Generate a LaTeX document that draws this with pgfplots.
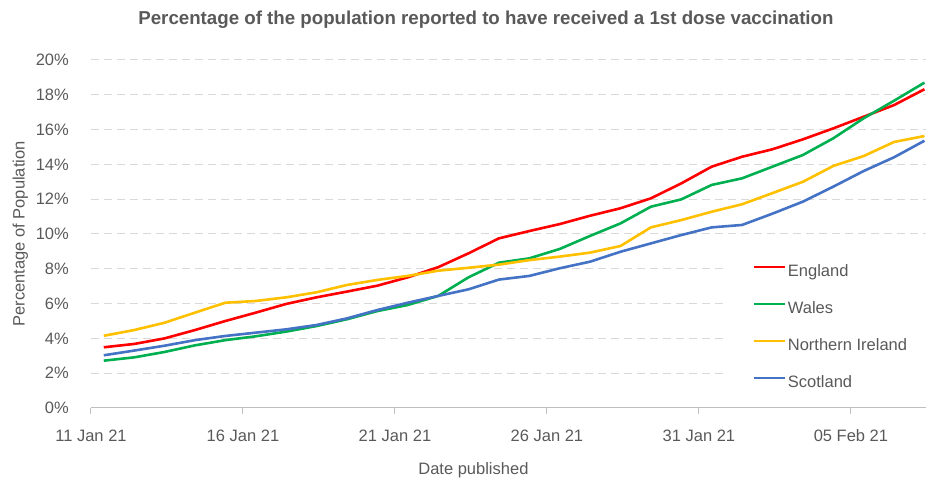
\documentclass[border=0pt]{standalone}
\usepackage{fontspec}
\setmainfont{Liberation Sans}
\usepackage{pgfplots}
\pgfplotsset{compat=1.18}
\usepackage{pgfplotstable}

\definecolor{txt}{RGB}{89,89,89}
\definecolor{gridc}{RGB}{217,217,217}
\definecolor{axisc}{RGB}{191,191,191}
\definecolor{eng}{RGB}{255,0,0}
\definecolor{wal}{RGB}{0,176,80}
\definecolor{nir}{RGB}{255,192,0}
\definecolor{sco}{RGB}{68,114,196}
\newcommand\fs{\fontsize{16.5}{19}\selectfont}

% d = days after the first report (12 Jan 21)
\pgfplotstableread{
d  eng   wal   nir   sco
0  3.49  2.72  4.15  3.03
1  3.68  2.91  4.48  3.30
2  4.00  3.22  4.90  3.58
3  4.48  3.60  5.48  3.90
4  5.00  3.90  6.05  4.14
5  5.48  4.12  6.15  4.33
6  5.98  4.39  6.36  4.52
7  6.36  4.71  6.65  4.77
8  6.69  5.10  7.07  5.15
9  7.03  5.57  7.36  5.63
10 7.51  5.92  7.59  6.05
11 8.09  6.44  7.89  6.44
12 8.89  7.51  8.06  6.82
13 9.75  8.35  8.24  7.38
14 10.17 8.60  8.50  7.59
15 10.57 9.14  8.70  8.03
16 11.05 9.89  8.93  8.41
17 11.48 10.61 9.31  8.98
18 12.05 11.57 10.38 9.46
19 12.91 11.99 10.80 9.94
20 13.87 12.82 11.28 10.38
21 14.44 13.20 11.71 10.52
22 14.87 13.87 12.35 11.17
23 15.44 14.54 13.00 11.86
24 16.07 15.50 13.91 12.72
25 16.74 16.65 14.48 13.62
26 17.41 17.66 15.29 14.41
27 18.32 18.70 15.63 15.36
}\vacc

\begin{document}
\begin{tikzpicture}
\begin{axis}[
  scale only axis,
  width=835pt, height=348pt,
  xmin=-0.42, xmax=27.05,
  ymin=0, ymax=20,
  axis lines*=left,
  y axis line style={draw=none},
  x axis line style={draw=axisc, line width=1pt},
  xtick={-0.42,4.58,9.58,14.58,19.58,24.58},
  xticklabels={11 Jan 21,16 Jan 21,21 Jan 21,26 Jan 21,31 Jan 21,05 Feb 21},
  xtick style={draw=axisc, line width=1pt},
  tick align=outside,
  major tick length=6pt,
  ytick={0,2,...,20},
  yticklabels={0\%,2\%,4\%,6\%,8\%,10\%,12\%,14\%,16\%,18\%,20\%},
  ytick style={draw=none},
  tick label style={font=\fs, text=txt, inner sep=0pt},
  yticklabel style={anchor=east, xshift=-16pt},
  xticklabel style={anchor=base, yshift=-27pt},
  ymajorgrids,
  major grid style={draw=gridc, line width=1pt, dash pattern=on 8pt off 5pt},
  title={Percentage of the population reported to have received a 1st dose vaccination},
  title style={font=\bfseries\fontsize{18.7}{21}\selectfont, text=txt,
    at={(axis description cs:0.473,1.0862)}, anchor=base},
  xlabel={Date published},
  xlabel style={font=\fs, text=txt, at={(axis description cs:0.458,-0.1897)}, anchor=base},
  ylabel={Percentage of Population},
  ylabel style={font=\fs, text=txt, at={(axis description cs:-0.0796,0.5)}, anchor=base},
  legend cell align=left,
  legend image code/.code={\draw[#1] (0pt,5pt) -- (31pt,5pt);},
  legend style={at={(axis description cs:0.757,0.437)}, anchor=north west,
    draw=none, fill=white, font=\fs, text=txt,
    inner xsep=29pt, inner ysep=6pt, row sep=17pt,
    nodes={text height=12pt, text depth=4pt, inner ysep=2pt, inner xsep=2pt}},
  every axis plot/.append style={line width=2.6pt, line join=round},
]
\addplot[eng] table[x=d, y=eng] {\vacc};
\addlegendentry{England}
\addplot[wal] table[x=d, y=wal] {\vacc};
\addlegendentry{Wales}
\addplot[nir] table[x=d, y=nir] {\vacc};
\addlegendentry{Northern Ireland}
\addplot[sco] table[x=d, y=sco] {\vacc};
\addlegendentry{Scotland}
\end{axis}
\pgfresetboundingbox
\path (current axis.south west) ++(-91pt,-74pt) rectangle ++(927pt,482pt);
\end{tikzpicture}
\end{document}
